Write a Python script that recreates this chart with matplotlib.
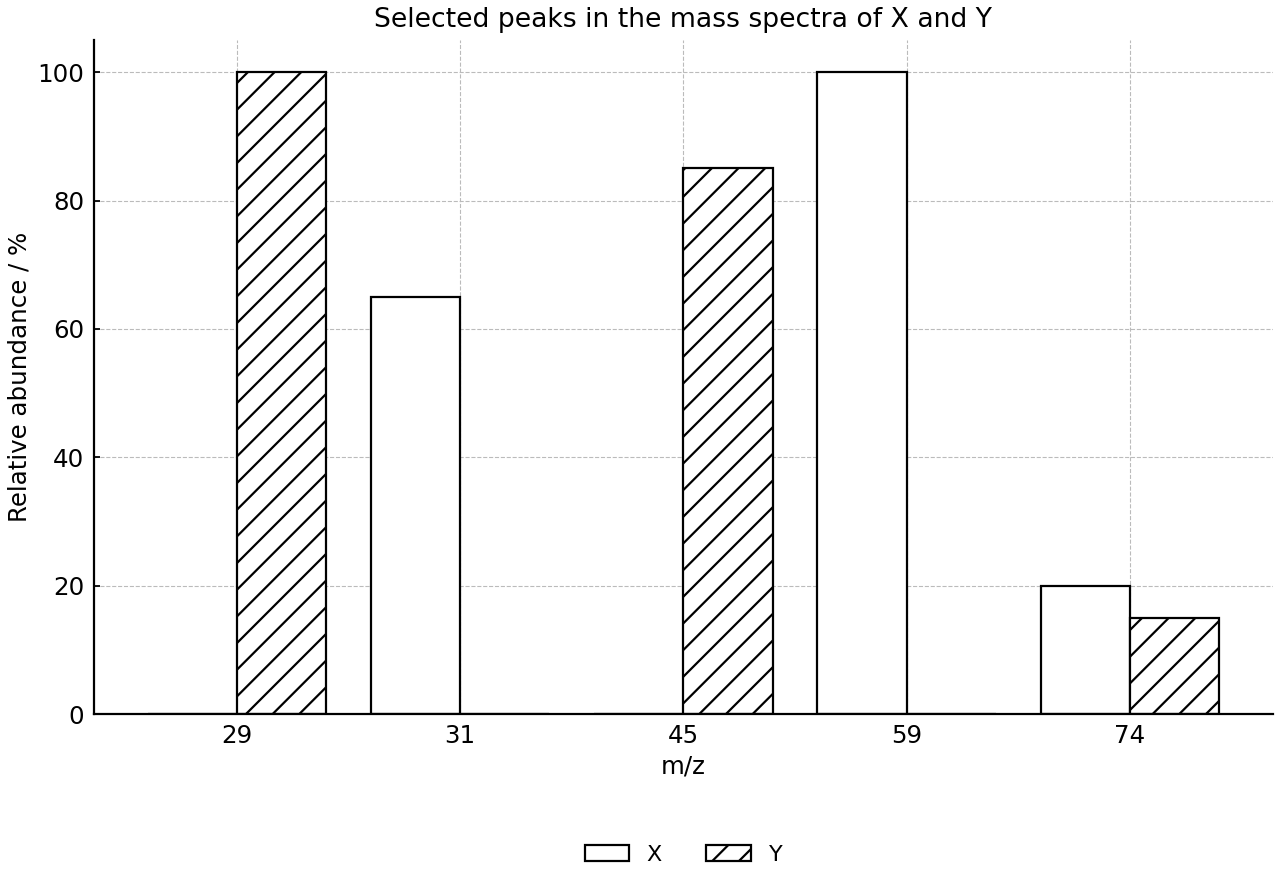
import matplotlib
matplotlib.use("Agg")
import matplotlib.pyplot as plt
import numpy as np

mz = ["29", "31", "45", "59", "74"]
x_vals = [0, 65, 0, 100, 20]
y_vals = [100, 0, 85, 0, 15]

plt.rcParams["font.size"] = 10
plt.rcParams["hatch.linewidth"] = 1.0

fig, ax = plt.subplots(figsize=(8, 5.5), dpi=160)
fig.subplots_adjust(left=0.0734, right=0.9945, top=0.9545, bottom=0.1886)

pos = np.arange(len(mz))
w = 0.4
ax.bar(pos - w / 2, x_vals, w, facecolor="white", edgecolor="black",
       linewidth=1.0, label="X")
ax.bar(pos + w / 2, y_vals, w, facecolor="white", edgecolor="black",
       linewidth=1.0, hatch="//", label="Y")

ax.set_xticks(pos)
ax.set_xticklabels(mz)
ax.tick_params(direction="in", length=2.5, width=0.8, pad=4.4, labelsize=11)
ax.set_xlabel("m/z", fontsize=11, labelpad=3)
ax.set_ylabel("Relative abundance / %", fontsize=11, labelpad=2.5)
ax.set_title("Selected peaks in the mass spectra of X and Y", pad=6)

ax.set_axisbelow(True)
ax.grid(True, linestyle="--", color="#bbbbbb", linewidth=0.5)
for s in ["top", "right"]:
    ax.spines[s].set_visible(False)
for s in ["left", "bottom"]:
    ax.spines[s].set_linewidth(1.0)

ax.legend(loc="center", bbox_to_anchor=(0.5, -0.209), ncol=2, frameon=False,
          handlelength=2.0, columnspacing=2.0)

fig.savefig("out.png")
